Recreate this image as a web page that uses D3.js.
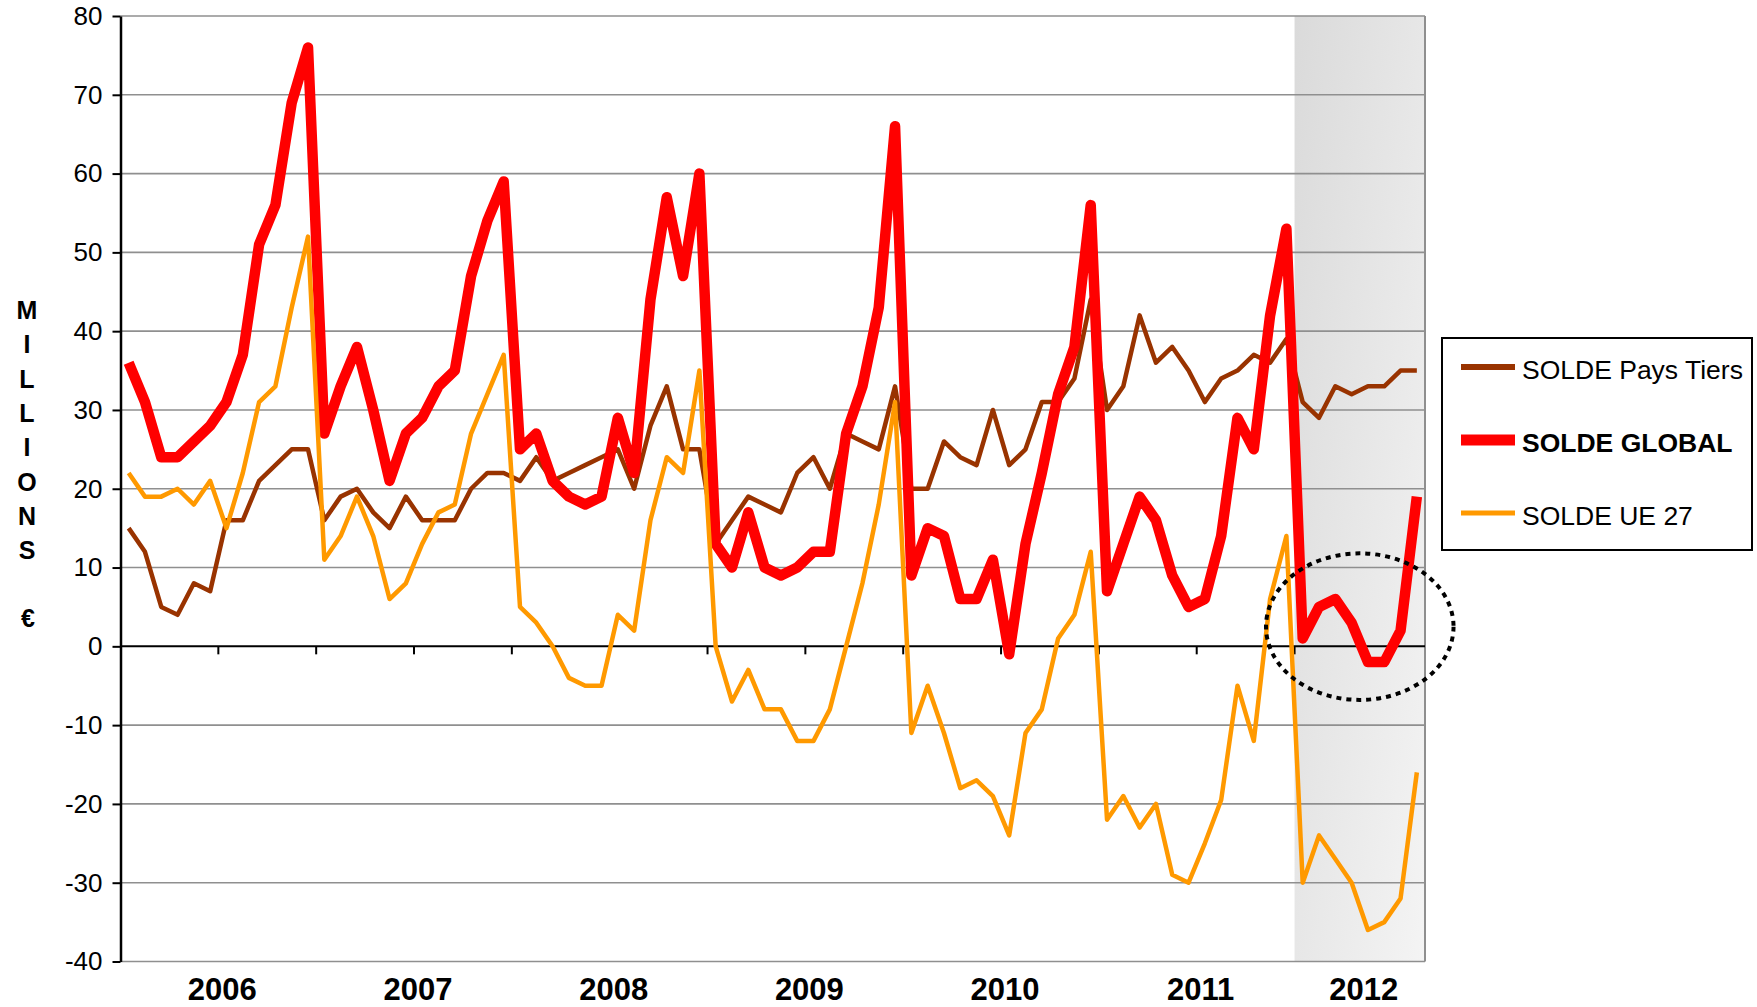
<!DOCTYPE html>
<html>
<head>
<meta charset="utf-8">
<script src="https://cdn.jsdelivr.net/npm/d3@7"></script>
<style>
  html, body { margin: 0; padding: 0; background: #fff; }
  svg { display: block; font-family: "Liberation Sans", Arial, sans-serif; }
</style>
</head>
<body>
<div id="chart"></div>
<script>
'use strict';

// one category per month, Jan 2006 .. Aug 2012
var years = ['2006', '2007', '2008', '2009', '2010', '2011', '2012'];
var monthsPerYear = [12, 12, 12, 12, 12, 12, 8];

var soldeTiers = [
  15, 12, 5, 4, 8, 7, 16, 16, 21, 23, 25, 25,
  16, 19, 20, 17, 15, 19, 16, 16, 16, 20, 22, 22,
  21, 24, 21, 22, 23, 24, 25, 20, 28, 33, 25, 25,
  13, 16, 19, 18, 17, 22, 24, 20, 27, 26, 25, 33,
  20, 20, 26, 24, 23, 30, 23, 25, 31, 31, 34, 44,
  30, 33, 42, 36, 38, 35, 31, 34, 35, 37, 36, 39,
  31, 29, 33, 32, 33, 33, 35, 35
];

var soldeGlobal = [
  36, 31, 24, 24, 26, 28, 31, 37, 51, 56, 69, 76,
  27, 33, 38, 30, 21, 27, 29, 33, 35, 47, 54, 59,
  25, 27, 21, 19, 18, 19, 29, 22, 44, 57, 47, 60,
  13, 10, 17, 10, 9, 10, 12, 12, 27, 33, 43, 66,
  9, 15, 14, 6, 6, 11, -1, 13, 22, 32, 38, 56,
  7, 13, 19, 16, 9, 5, 6, 14, 29, 25, 42, 53,
  1, 5, 6, 3, -2, -2, 2, 19
];

var soldeUE = [
  22, 19, 19, 20, 18, 21, 15, 22, 31, 33, 43, 52,
  11, 14, 19, 14, 6, 8, 13, 17, 18, 27, 32, 37,
  5, 3, 0, -4, -5, -5, 4, 2, 16, 24, 22, 35,
  0, -7, -3, -8, -8, -12, -12, -8, 0, 8, 18, 31,
  -11, -5, -11, -18, -17, -19, -24, -11, -8, 1, 4, 12,
  -22, -19, -23, -20, -29, -30, -25, -19.5, -5, -12, 6, 14,
  -30, -24, -27, -30, -36, -35, -32, -16
];

var yTicks = [-40, -30, -20, -10, 0, 10, 20, 30, 40, 50, 60, 70, 80];
var axisLetters = ['M', 'I', 'L', 'L', 'I', 'O', 'N', 'S'];

function makeLineChart(containerSelector) {
  var width = 1757;
  var height = 1007;
  var plot = {left: 120.5, right: 1425, top: 16, bottom: 961.5};

  var months = [];
  years.forEach(function(y, k) {
    for (var m = 1; m <= monthsPerYear[k]; m++) months.push(y + '-' + m);
  });

  var series = [
    {name: 'SOLDE Pays Tiers', values: soldeTiers, colour: '#993300', width: 4.5, legendWidth: 6, bold: false},
    {name: 'SOLDE GLOBAL', values: soldeGlobal, colour: '#ff0000', width: 10.5, legendWidth: 11, bold: true},
    {name: 'SOLDE UE 27', values: soldeUE, colour: '#ff9900', width: 4.5, legendWidth: 5, bold: false}
  ];

  var x = d3.scaleBand().domain(months).range([plot.left, plot.right]).paddingInner(0).paddingOuter(0);
  var y = d3.scaleLinear().domain([-40, 80]).range([plot.bottom, plot.top]);
  var xc = function(i) { return x(months[i]) + x.bandwidth() / 2; };

  var svg = d3.select(containerSelector)
              .append('svg')
              .attr('width', width)
              .attr('height', height);

  var defs = svg.append('defs');
  var grad = defs.append('linearGradient')
                 .attr('id', 'shade')
                 .attr('x1', '0').attr('y1', '0')
                 .attr('x2', '1').attr('y2', '1');
  grad.append('stop').attr('offset', '0%').attr('stop-color', '#dadada');
  grad.append('stop').attr('offset', '100%').attr('stop-color', '#f4f4f4');

  // shaded 2012 block
  var firstOf2012 = months.indexOf('2012-1');
  svg.append('rect')
     .attr('x', x(months[firstOf2012]))
     .attr('y', y(80))
     .attr('width', plot.right - x(months[firstOf2012]))
     .attr('height', y(-40) - y(80))
     .attr('fill', 'url(#shade)');

  // horizontal gridlines
  svg.append('g')
     .selectAll('line')
     .data(yTicks.filter(function(d) { return d !== 0; }))
     .enter().append('line')
       .attr('x1', plot.left)
       .attr('x2', plot.right)
       .attr('y1', function(d) { return y(d); })
       .attr('y2', function(d) { return y(d); })
       .attr('stroke', '#8f8f8f')
       .attr('stroke-width', 1.6);

  // right border
  svg.append('line')
     .attr('x1', plot.right).attr('x2', plot.right)
     .attr('y1', y(80)).attr('y2', y(-40))
     .attr('stroke', '#8f8f8f')
     .attr('stroke-width', 2);

  // zero line with half-year ticks
  svg.append('line')
     .attr('x1', plot.left).attr('x2', plot.right)
     .attr('y1', y(0)).attr('y2', y(0))
     .attr('stroke', '#000')
     .attr('stroke-width', 2);

  svg.append('g')
     .selectAll('line')
     .data(d3.range(6, months.length, 6))
     .enter().append('line')
       .attr('x1', function(i) { return x(months[i]); })
       .attr('x2', function(i) { return x(months[i]); })
       .attr('y1', y(0))
       .attr('y2', y(0) + 8)
       .attr('stroke', '#000')
       .attr('stroke-width', 2);

  // y axis (plain hyphen for negatives, as in the original)
  var yAxis = d3.axisLeft(y)
                .tickValues(yTicks)
                .tickSize(8)
                .tickSizeOuter(0)
                .tickPadding(10)
                .tickFormat(function(d) { return String(d); });

  var gy = svg.append('g')
              .attr('transform', 'translate(' + plot.left + ',0)')
              .call(yAxis);
  gy.select('.domain').attr('stroke', '#000').attr('stroke-width', 2.5);
  gy.selectAll('.tick line').attr('stroke', '#000').attr('stroke-width', 2);
  gy.selectAll('.tick text')
    .attr('fill', '#000')
    .style('font-size', '26px')
    .style('font-family', '"Liberation Sans", Arial, sans-serif');

  // lines
  var line = d3.line()
               .x(function(d, i) { return xc(i); })
               .y(function(d) { return y(d); });

  series.forEach(function(s) {
    svg.append('path')
       .datum(s.values)
       .attr('d', line)
       .attr('fill', 'none')
       .attr('stroke', s.colour)
       .attr('stroke-width', s.width)
       .attr('stroke-linejoin', 'round')
       .attr('stroke-linecap', 'butt');
  });

  // dotted ring round the 2012 dip
  var ringCentre = 75.5;
  svg.append('ellipse')
     .attr('cx', x(months[0]) + ringCentre * x.bandwidth() + x.bandwidth() / 2)
     .attr('cy', y(2.5))
     .attr('rx', 5.75 * x.bandwidth())
     .attr('ry', y(0) - y(9.3))
     .attr('fill', 'none')
     .attr('stroke', '#000')
     .attr('stroke-width', 4)
     .attr('stroke-dasharray', '5 5');

  // year labels
  var start = 0;
  var yearPos = years.map(function(yr, k) {
    var a = start;
    var b = start + monthsPerYear[k] - 1;
    start += monthsPerYear[k];
    return {year: yr, x: (xc(a) + xc(b)) / 2};
  });

  svg.append('g')
     .selectAll('text')
     .data(yearPos)
     .enter().append('text')
       .attr('x', function(d) { return d.x + 4; })
       .attr('y', 1000)
       .attr('text-anchor', 'middle')
       .style('font-size', '31px')
       .style('font-weight', 'bold')
       .text(function(d) { return d.year; });

  // stacked axis title
  var title = svg.append('g').attr('text-anchor', 'middle')
                 .style('font-size', '25px')
                 .style('font-weight', 'bold');
  title.selectAll('text')
       .data(axisLetters)
       .enter().append('text')
         .attr('x', 27)
         .attr('y', function(d, i) { return 319 + i * 34.3; })
         .text(function(d) { return d; });
  title.append('text')
       .attr('x', 28)
       .attr('y', 627)
       .text('€');

  // legend
  var legend = svg.append('g');
  legend.append('rect')
        .attr('x', 1442)
        .attr('y', 338)
        .attr('width', 310)
        .attr('height', 212)
        .attr('fill', '#fff')
        .attr('stroke', '#000')
        .attr('stroke-width', 2);

  var item = legend.selectAll('.legend')
                   .data(series)
                   .enter().append('g')
                     .attr('class', 'legend')
                     .attr('transform', function(d, i) { return 'translate(0,' + (367 + i * 73) + ')'; });

  item.append('line')
      .attr('x1', 1461)
      .attr('x2', 1515)
      .attr('stroke', function(d) { return d.colour; })
      .attr('stroke-width', function(d) { return d.legendWidth; });

  item.append('text')
      .attr('x', 1522)
      .attr('y', 12)
      .style('font-size', '26.5px')
      .style('font-weight', function(d) { return d.bold ? 'bold' : 'normal'; })
      .text(function(d) { return d.name; });
}

makeLineChart('#chart');
</script>
</body>
</html>
